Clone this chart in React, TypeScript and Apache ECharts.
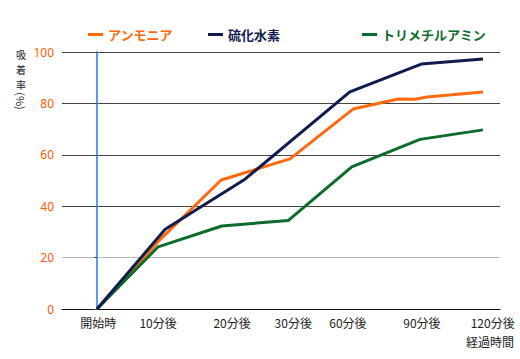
import React, { useEffect, useRef } from "react";
import * as echarts from "echarts";

// Category labels (time points)
const timeLabels = ["開始時", "10分後", "20分後", "30分後", "60分後", "90分後", "120分後"];
const seriesNames = ["アンモニア", "硫化水素", "トリメチルアミン"];
const yTitleChars = ["吸", "着", "率"];

// Series values: x in time-point index units, y = adsorption rate (%)
const ammoniaX = [0, 0.98, 1.93, 3.0, 3.98, 4.68, 4.94, 5.13, 6];
const ammoniaY = [0, 27, 50.2, 58.4, 77.8, 81.7, 81.6, 82.5, 84.4];
const h2sX = [0, 1.06, 2.3, 3.93, 5.04, 6];
const h2sY = [0, 31, 50.5, 84.5, 95.3, 97.3];
const tmaX = [0, 0.95, 1.94, 2.97, 3.96, 5.02, 6];
const tmaY = [0, 24.2, 32.3, 34.4, 55.3, 66, 69.7];

const yTicks = [0, 20, 40, 60, 80, 100];

// Layout: where each time label is anchored on the x axis (index units)
const labelAnchors = [0.02, 0.95, 2.1, 3.05, 3.9, 5.05, 6.15];

const colors = ["#ff6a10", "#0f1c4d", "#0d6b2c"];
const FONT = "'Noto Sans CJK JP', sans-serif";

function pairs(xs: number[], ys: number[]) {
  return xs.map((x, i) => [x, ys[i]]);
}

export default function App() {
  const ref = useRef<HTMLDivElement>(null);
  useEffect(() => {
    document.body.style.margin = "0";
    if (!ref.current) return;
    const chart = echarts.init(ref.current, null, { renderer: "svg" });
    const legendPos = [83, 203, 357];
    chart.setOption({
      animation: false,
      backgroundColor: "#ffffff",
      textStyle: { fontFamily: FONT },
      legend: seriesNames.map((n, i) => ({
        data: [n],
        left: legendPos[i],
        top: 23,
        icon: "rect",
        itemWidth: 15,
        itemHeight: 3,
        selectedMode: false,
        textStyle: {
          color: colors[i],
          fontSize: 13,
          fontWeight: "bold",
          fontFamily: FONT,
        },
      })),
      grid: { left: 62, right: 20, top: 52, bottom: 50 },
      xAxis: {
        type: "value",
        min: -0.544,
        max: 6.264,
        splitLine: { show: false },
        axisLine: { show: true, onZero: false, lineStyle: { color: "#111", width: 1 } },
        axisTick: { show: false },
        axisLabel: {
          customValues: labelAnchors,
          margin: 7,
          color: "#222",
          fontSize: 12,
          fontFamily: FONT,
          formatter: (v: number) => {
            let best = 0;
            labelAnchors.forEach((a, i) => {
              if (Math.abs(a - v) < Math.abs(labelAnchors[best] - v)) best = i;
            });
            return timeLabels[best];
          },
        },
      },
      yAxis: {
        type: "value",
        min: yTicks[0],
        max: yTicks[yTicks.length - 1],
        interval: 20,
        axisLine: { show: true, lineStyle: { color: "#5b9bf0", width: 2 } },
        axisTick: { show: true, length: 3, lineStyle: { color: "#4a4240" } },
        axisLabel: {
          color: "#ff5a00",
          fontSize: 12,
          margin: 8,
          fontFamily: "'Noto Sans', sans-serif",
        },
        splitLine: {
          show: true,
          lineStyle: {
            color: ["#111111", "#b8b8b8", "#4a4240", "#4a4240", "#4a4240", "#4a4240"],
            width: 1,
          },
        },
      },
      graphic: [
        ...yTitleChars.map((c, i) => ({
          type: "text",
          x: 21,
          y: 54 + i * 15,
          style: {
            text: c,
            fontSize: 10,
            fontFamily: FONT,
            fill: "#222",
            align: "center",
            verticalAlign: "middle",
          },
        })),
        {
          type: "text",
          x: 21,
          y: 101,
          rotation: -Math.PI / 2,
          style: {
            text: "(%)",
            fontSize: 11,
            fontFamily: FONT,
            fill: "#222",
            align: "center",
            verticalAlign: "middle",
          },
        },
        {
          type: "text",
          x: 514,
          y: 341,
          style: {
            text: "経過時間",
            fontSize: 12,
            fontFamily: FONT,
            fill: "#222",
            align: "right",
            verticalAlign: "middle",
          },
        },
      ],
      series: [
        { name: seriesNames[0], data: pairs(ammoniaX, ammoniaY) },
        { name: seriesNames[1], data: pairs(h2sX, h2sY) },
        { name: seriesNames[2], data: pairs(tmaX, tmaY) },
      ].map((s, i) => ({
        ...s,
        type: "line",
        showSymbol: false,
        symbol: "none",
        z: i === 1 ? 3 : 2,
        lineStyle: { color: colors[i], width: 3 },
        itemStyle: { color: colors[i] },
      })),
    });
    return () => chart.dispose();
  }, []);
  return <div ref={ref} style={{ width: 520, height: 359 }} />;
}
